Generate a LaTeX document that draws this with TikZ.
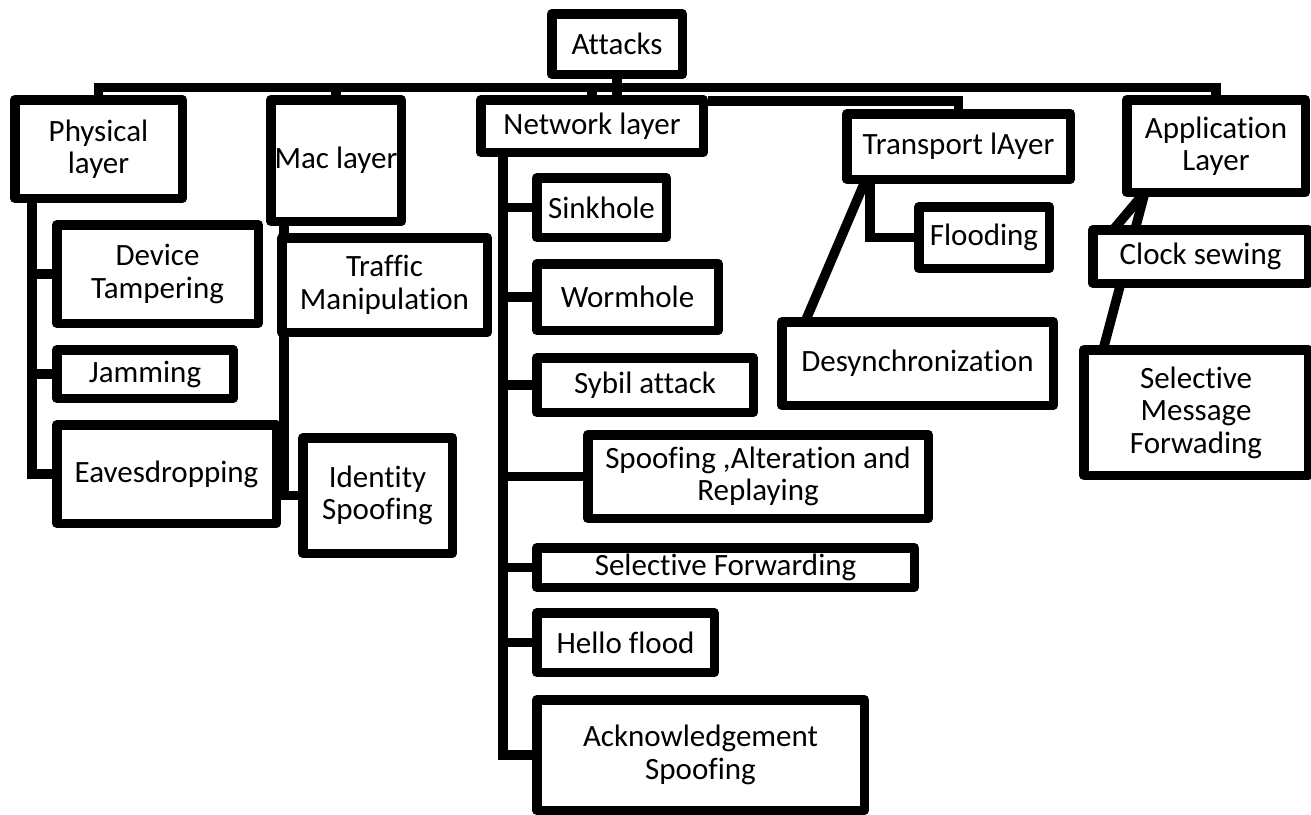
\documentclass[tikz,border=0pt]{standalone}
\usepackage{fontspec}
\setmainfont{Carlito}[Ligatures={NoCommon}]
\pgfdeclarelayer{background}
\pgfsetlayers{background,main}
\tikzset{
  bx/.style={draw, line width=9.5pt, line join=round, fill=white, align=center,
    inner sep=0pt, font=\fontsize{31}{32.5}\selectfont},
  conn/.style={line width=9.5pt, line join=miter},
}
\begin{document}
\begin{tikzpicture}[x=1pt,y=-1pt]
\useasboundingbox (0,0) rectangle (1311,814);
% top level
\node[bx, minimum width=130.5pt, minimum height=60.5pt] (att) at (617,44) {Attacks};
\node[bx, minimum width=167.5pt, minimum height=98.5pt] (phy) at (98.5,149) {Physical\\layer};
\node[bx, minimum width=130.5pt, minimum height=121.5pt] (mac) at (336,160.5) {Mac layer};
\node[bx, minimum width=222.5pt, minimum height=52.5pt] (net) at (592,126) {Network layer};
\node[bx, minimum width=223.5pt, minimum height=65.5pt] (tra) at (958.5,146.5) {Transport lAyer};
\node[bx, minimum width=178.5pt, minimum height=92.5pt] (app) at (1216,146) {Application\\Layer};
% physical children
\node[bx, minimum width=201.5pt, minimum height=98.5pt] (dev) at (157.5,274) {Device\\Tampering};
\node[bx, minimum width=176.5pt, minimum height=48.5pt] (jam) at (145,374) {Jamming};
\node[bx, minimum width=219.5pt, minimum height=98.5pt] (eav) at (166.5,474) {Eavesdropping};
% mac children
\node[bx, minimum width=205.5pt, minimum height=94.5pt] (trf) at (384.5,285) {Traffic\\Manipulation};
\node[bx, minimum width=149.5pt, minimum height=115.5pt] (ids) at (377.5,495.5) {Identity\\Spoofing};
% network children
\node[bx, minimum width=129.5pt, minimum height=59.5pt] (snk) at (601.5,207.5) {Sinkhole};
\node[bx, minimum width=181.5pt, minimum height=66.5pt] (wrm) at (627.5,297) {Wormhole};
\node[bx, minimum width=216.5pt, minimum height=54.5pt] (syb) at (645,385) {Sybil attack};
\node[bx, minimum width=340.5pt, minimum height=83.5pt] (spf) at (758,476.5) {Spoofing ,Alteration and\\Replaying};
\node[bx, minimum width=377.5pt, minimum height=39.5pt] (sfw) at (725.5,567.5) {Selective Forwarding};
\node[bx, minimum width=177.5pt, minimum height=59.5pt] (hel) at (625.5,642.5) {Hello flood};
\node[bx, minimum width=327.5pt, minimum height=110.5pt] (ack) at (700.5,755) {Acknowledgement\\Spoofing};
% transport children
\node[bx, minimum width=130.5pt, minimum height=61.5pt] (fld) at (984,237.5) {Flooding};
\node[bx, minimum width=271.5pt, minimum height=83.5pt] (dsy) at (917.5,363.5) {Desynchronization};
% application children
\node[bx, minimum width=215.5pt, minimum height=53.5pt] (clk) at (1200.5,256.5) {Clock sewing};
\node[bx, minimum width=224.5pt, minimum height=125.5pt] (smf) at (1196,412.5) {Selective\\Message\\Forwading};

\begin{pgfonlayer}{background}
\fill[white] (0,0) rectangle (1311,814);
% top bar
\coordinate (bar) at (617,87.5);
\draw[conn] (phy.north) |- (bar) -| (app.north);
\draw[conn] (att.south) -- (bar);
\draw[conn] (mac.north) -- (mac.north |- bar);
\draw[conn] (net.north) -- (net.north |- bar);
\draw[conn] (bar) -- (bar |- net.north);
% transport bar
\draw[conn] ([yshift=-6pt]net.north east) -| (tra.north);
% physical trunk
\coordinate (pt) at (32,203);
\draw[conn] (phy.south -| pt) |- (eav.west);
\draw[conn] (dev.west) -- (dev.west -| pt);
\draw[conn] (jam.west) -- (jam.west -| pt);
% mac trunk
\coordinate (mt) at (284,226);
\draw[conn] (mac.south -| mt) |- (ids.west);
% network trunk
\coordinate (nt) at (503,157);
\draw[conn] (net.south -| nt) |- (ack.west);
\foreach \n in {snk,wrm,syb,spf,sfw,hel}{
  \draw[conn] (\n.west) -- (\n.west -| nt);
}
% transport children
\draw[conn] ([xshift=-88.5pt]tra.south) |- (fld.west);
\draw[conn] ([xshift=-92.5pt,yshift=5pt]tra.south) -- ([xshift=28pt,yshift=-5pt]dsy.north west);
% application children
\draw[conn] ([xshift=23pt,yshift=5pt]app.south west) -- ([xshift=24pt,yshift=-5pt]smf.north west);
\draw[conn] ([xshift=23pt,yshift=5pt]app.south west) -- ([xshift=25pt,yshift=-5pt]clk.north west);
\end{pgfonlayer}
\end{tikzpicture}
\end{document}
